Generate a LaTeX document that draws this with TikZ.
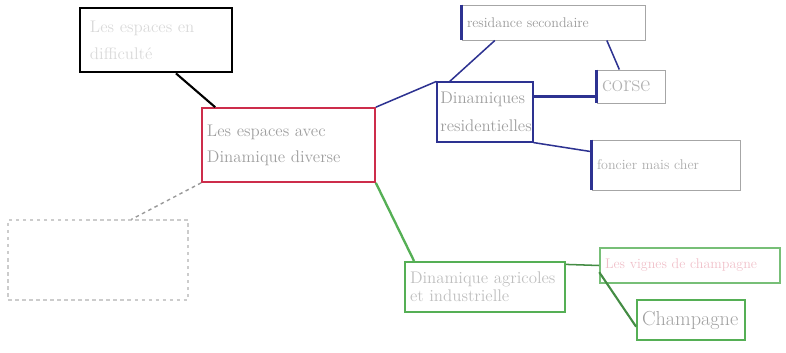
\documentclass[tikz,border=0pt]{standalone}
\usepackage{tikz}
\usetikzlibrary{positioning}

\definecolor{crayonred}{RGB}{205,45,75}
\definecolor{crayonblue}{RGB}{45,50,145}
\definecolor{crayongreen}{RGB}{85,175,85}

\begin{document}
\begin{tikzpicture}[x=0.03cm, y=-0.03cm, auto,
  boite/.style={draw, rectangle, inner xsep=0.15cm, inner ysep=2pt, align=left, text=gray!75, font=\Large},
  lien/.style={line width=1.3pt}]
\useasboundingbox (0,0) rectangle (786,352);

%central box
\node[boite, crayonred, line width=1.4pt, text width=4.89cm, minimum height=2.22cm, text=gray!75] (centre) at (288.5,145) {Les espaces avec\\[4pt]Dinamique diverse};

%left boxes
\node[boite, black, line width=2.4pt, inner xsep=0.3cm, text width=3.96cm, minimum height=1.92cm, text=gray!30] (difficulte) at (156,40) {Les espaces en\\[5pt]difficult\'e};
\node[boite, gray!40, dashed, line width=1pt, minimum width=5.4cm, minimum height=2.4cm] (tirets) at (98,260) {};

%blue boxes
\node[boite, crayonblue, line width=1pt, minimum height=1.8cm, text=gray!75, inner xsep=0.1cm, text width=2.68cm] (residentiel) at (485,112) {Dinamiques\\[6pt]residentielles};
\node[boite, gray!70, line width=0.8pt, text width=5.19cm, minimum height=1.05cm, text=gray!80, font=\large] (secondaire) at (553.5,22.5) {residance secondaire};
\node[boite, gray!70, line width=0.8pt, text width=1.74cm, minimum height=0.99cm, text=gray!60, font=\huge] (corse) at (631,86.5) {corse};
\node[boite, gray!70, line width=0.8pt, text width=4.14cm, minimum height=1.5cm, text=gray!65, font=\large] (foncier) at (666,165) {foncier mais cher};
%thick left sides
\draw[crayonblue, line width=2.5pt] (secondaire.north west) -- (secondaire.south west);
\draw[crayonblue, line width=2.5pt] (corse.north west) -- (corse.south west);
\draw[crayonblue, line width=2.5pt] (foncier.north west) -- (foncier.south west);

%green boxes
\node[boite, crayongreen, line width=1.6pt, text width=4.5cm, minimum height=1.5cm, text=gray!50] (agricole) at (485,287) {Dinamique agricoles\\[-3pt]et industrielle};
\node[boite, crayongreen!80, line width=1.3pt, text width=5.1cm, minimum height=1.05cm, text=crayonred!30, font=\large] (vignes) at (690,265.5) {Les vignes de champagne};
\node[boite, crayongreen, line width=1.6pt, text width=2.94cm, minimum height=1.2cm, text=gray!75, font=\LARGE] (champagne) at (691,320) {Champagne};

%links
\draw[lien, black, line width=1.8pt] ([xshift=0.6cm]difficulte.south) -- ([xshift=-2.2cm]centre.north);
\draw[lien, gray!80, dashed, line width=1.2pt] (centre.south west) -- ([xshift=1cm]tirets.north);
\draw[lien, crayonblue] (centre.north east) -- (residentiel.north west);
\draw[lien, crayonblue] ([xshift=0.4cm]residentiel.north west) -- ([xshift=1cm]secondaire.south west);
\draw[lien, crayonblue] ([xshift=1.6cm]secondaire.south) -- ([xshift=-0.35cm]corse.north);
\draw[lien, crayonblue, line width=2.2pt] ([yshift=-0.3cm]corse.west) -- ([yshift=-0.3cm]corse.west -| residentiel.east);
\draw[lien, crayonblue] (residentiel.south east) -- ([yshift=0.4cm]foncier.west);
\draw[lien, crayongreen, line width=2pt] (centre.south east) -- ([xshift=0.3cm]agricole.north west);
\draw[lien, crayongreen!80!black] ([yshift=-0.1cm]agricole.north east) -- (vignes.west);
\draw[lien, crayongreen!80!black, line width=1.8pt] ([yshift=-0.2cm]vignes.west) -- ([yshift=-0.2cm]champagne.west);
\end{tikzpicture}
\end{document}
